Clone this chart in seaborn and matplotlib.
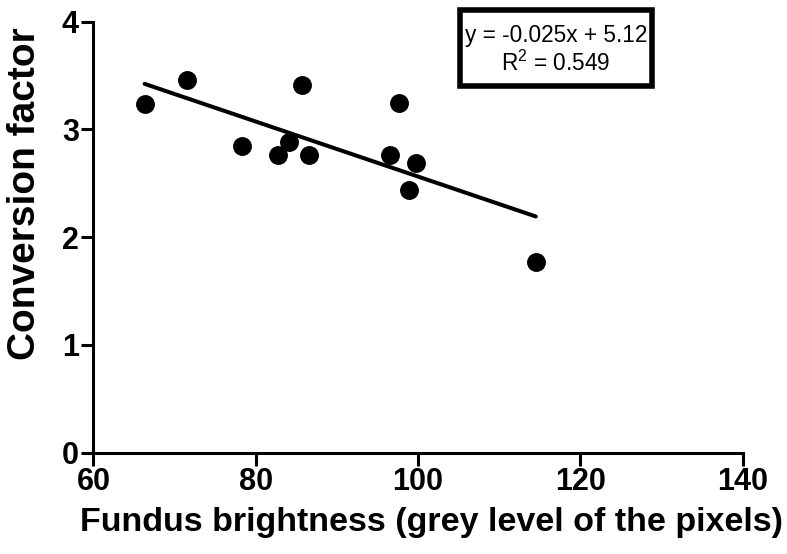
import pandas as pd
import matplotlib
matplotlib.use('Agg')
import matplotlib.pyplot as plt
from matplotlib.patches import Rectangle
import seaborn as sns

# values
brightness = [66.3, 71.5, 85.7, 97.6, 78.3, 84.1, 82.7, 86.5, 96.5, 99.7, 98.9, 114.5]
conversion = [3.24, 3.46, 3.41, 3.25, 2.85, 2.88, 2.76, 2.76, 2.76, 2.69, 2.44, 1.77]
x_ticks = [60, 80, 100, 120, 140]
y_ticks = [0, 1, 2, 3, 4]
fit_label = 'y = -0.025x + 5.12\nR$^2$ = 0.549'

data = pd.DataFrame({'brightness': brightness, 'conversion': conversion})

sns.set_style('ticks', {'text.color': 'black', 'axes.labelcolor': 'black',
                        'xtick.color': 'black', 'ytick.color': 'black',
                        'axes.edgecolor': 'black'})
plt.rcParams['font.family'] = ['Liberation Sans', 'DejaVu Sans']
plt.rcParams['mathtext.fontset'] = 'custom'
plt.rcParams['mathtext.rm'] = 'Liberation Sans'

fig = plt.figure(figsize=(7.87, 5.54), dpi=100)
ax = fig.add_axes([0.1188, 0.1828, 0.8249, 0.778])

sns.regplot(x='brightness', y='conversion', data=data, ci=None, ax=ax,
            color='black', truncate=True,
            scatter_kws={'s': 185, 'alpha': 1, 'linewidths': 0},
            line_kws={'linewidth': 2.9})

ax.set_xlim(60, 140)
ax.set_ylim(0, 4)
ax.set_xticks(x_ticks)
ax.set_yticks(y_ticks)
ax.set_xlabel('Fundus brightness (grey level of the pixels)', fontsize=24.5, fontweight='bold', color='black')
ax.set_ylabel('Conversion factor', fontsize=28, fontweight='bold', color='black')
ax.xaxis.set_label_coords(0.5206, -0.125)
ax.yaxis.set_label_coords(-0.078, 0.60)
ax.tick_params(axis='both', labelsize=22, width=2.2, length=9, pad=1.5, direction='out',
               color='black', labelcolor='black')
for lab in ax.get_xticklabels() + ax.get_yticklabels():
    lab.set_fontweight('bold')

sns.despine(ax=ax)
for side in ['left', 'bottom']:
    ax.spines[side].set_linewidth(2.2)
    ax.spines[side].set_color('black')

# equation box
ax.add_patch(Rectangle((0.5640, 0.8520), 0.2970, 0.1750, transform=ax.transAxes,
                       fill=False, edgecolor='black', linewidth=4, clip_on=False))
ax.text(0.7124, 0.9343, fit_label, transform=ax.transAxes, ha='center', va='center',
        fontsize=16.3, linespacing=1.2, color='black')

fig.savefig('out.png', dpi=100)
